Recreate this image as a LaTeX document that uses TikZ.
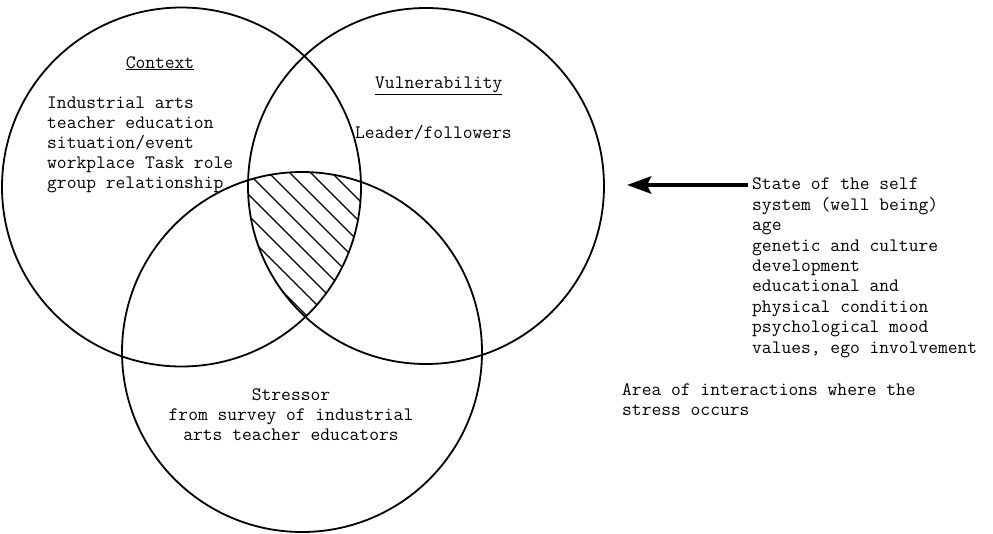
\documentclass[tikz,border=0pt]{standalone}
\usepackage{fontspec}
\usetikzlibrary{arrows.meta}
\begin{document}
\begin{tikzpicture}[x=1pt,y=-1pt,
  ring/.style={draw=black,line width=1.8pt},
  hatchline/.style={draw=black,line width=1.1pt},
  txt/.style={inner sep=0pt,font=\ttfamily\fontsize{19}{20}\selectfont,align=left,text=black},
  txtc/.style={txt,align=center},
  bigarrow/.style={draw=black,line width=4.5pt,-{Stealth[length=24pt,width=17pt,inset=4pt]}}]
\useasboundingbox[fill=white] (0,0) rectangle (993,533);
% circle centres
\coordinate (c1) at (181.5,187);
\coordinate (c2) at (426,186);
\coordinate (c3) at (302,352);
% hatched intersection
\begin{scope}
  \clip (c1) circle[radius=179.5pt];
  \clip (c2) circle[radius=178pt];
  \clip (c3) circle[radius=180pt];
  \foreach \c in {-243,-222,...,105}
    \draw[hatchline] (200,200+\c) -- (440,440+\c);
\end{scope}
% circles
\draw[ring] (c1) circle[radius=179.5pt];
\draw[ring] (c2) circle[radius=178pt];
\draw[ring] (c3) circle[radius=180pt];
% texts (base anchor = baseline of the last line)
\node[txtc,anchor=base] (ctxtitle) at (160,68) {\underline{Context}};
\node[txt,anchor=base west] (ctx) at (47,188) {Industrial arts\\teacher education\\situation/event\\workplace Task role\\group relationship};
\node[txt,anchor=base west] (vultitle) at (375,88) {\underline{Vulnerability}};
\node[txt,anchor=base west] (vul) at (355,138) {Leader/followers};
\node[txtc,anchor=base] (str) at (291,440) {Stressor\\from survey of industrial\\arts teacher educators};
\node[txt,anchor=base west,font=\ttfamily\fontsize{19}{20.4}\selectfont] (self) at (752,353) {State of the self\\system (well being)\\age\\genetic and culture\\development\\educational and\\physical condition\\psychological mood\\values, ego involvement};
\node[txt,anchor=base west] (area) at (622,415) {Area of interactions where the\\stress occurs};
% arrow
\coordinate (arrowtail) at (748,185);
\coordinate (arrowtip) at (627,185);
\draw[bigarrow] (arrowtail) -- (arrowtip);
\end{tikzpicture}
\end{document}
